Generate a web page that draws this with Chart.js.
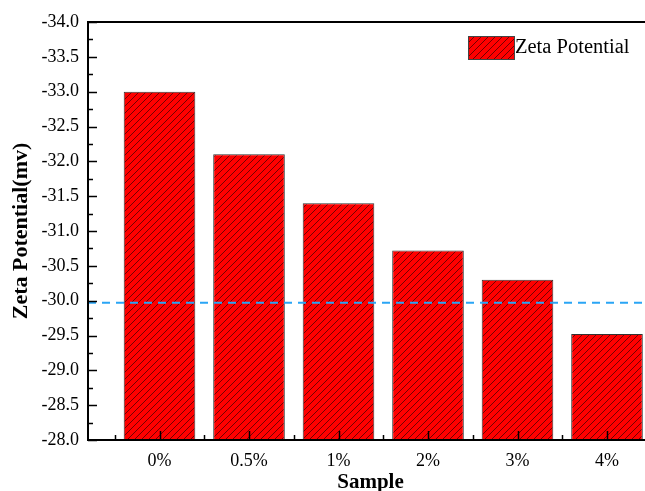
<!DOCTYPE html>
<html>
<head>
<meta charset="utf-8">
<script src="https://cdn.jsdelivr.net/npm/chart.js@4"></script>
<style>
  html, body { margin: 0; padding: 0; background: #fff; overflow: hidden; }
  #wrap { width: 653px; height: 491px; position: relative; }
</style>
</head>
<body>
<div id="wrap"><canvas id="zeta-chart"></canvas></div>
<script>
var sampleLabels = ["0%", "0.5%", "1%", "2%", "3%", "4%"];
var zetaValues = [-33.0, -32.1, -31.4, -30.72, -30.3, -29.52];
var baseValue = -28.0;
var refLine = -29.97;
var yMin = -34.0, yMax = -28.0;

var serif = "'Liberation Serif', 'Times New Roman', serif";

function makeHatch() {
    var s = 7;
    var c = document.createElement("canvas");
    c.width = s; c.height = s;
    var g = c.getContext("2d");
    g.fillStyle = "#ff0000";
    g.fillRect(0, 0, s, s);
    g.strokeStyle = "rgba(70,0,0,0.75)";
    g.lineWidth = 1;
    g.beginPath();
    g.moveTo(0, s); g.lineTo(s, 0);
    g.moveTo(-1, 1); g.lineTo(1, -1);
    g.moveTo(s - 1, s + 1); g.lineTo(s + 1, s - 1);
    g.stroke();
    return g.createPattern(c, "repeat");
}
var hatch = makeHatch();

// frame, inward ticks, dashed line and legend
var decor = {
    id: "decor",
    afterDatasetsDraw: function (chart) {
        var ctx = chart.ctx, a = chart.chartArea;
        var xs = chart.scales.x, ys = chart.scales.y;
        ctx.save();

        // dashed reference line
        var yr = ys.getPixelForValue(refLine);
        ctx.strokeStyle = "#2aa5f5";
        ctx.lineWidth = 2;
        ctx.setLineDash([8, 6]);
        ctx.beginPath();
        ctx.moveTo(a.left, yr); ctx.lineTo(a.right, yr);
        ctx.stroke();
        ctx.setLineDash([]);

        ctx.strokeStyle = "#000";
        ctx.lineWidth = 1.5;
        ctx.beginPath();
        // y ticks
        for (var v = yMin; v <= yMax + 1e-6; v += 0.25) {
            var py = Math.round(ys.getPixelForValue(v)) + 0.5;
            var major = Math.abs(v * 2 - Math.round(v * 2)) < 1e-6;
            ctx.moveTo(a.left, py); ctx.lineTo(a.left + (major ? 9 : 5), py);
        }
        // x ticks
        for (var i = 0; i < sampleLabels.length; i++) {
            var px = Math.round(xs.getPixelForValue(i + 1)) + 0.5;
            ctx.moveTo(px, a.bottom); ctx.lineTo(px, a.bottom - 9);
            var pm = Math.round(xs.getPixelForValue(i + 0.5)) + 0.5;
            ctx.moveTo(pm, a.bottom); ctx.lineTo(pm, a.bottom - 5);
        }
        ctx.stroke();

        // frame
        ctx.lineWidth = 2;
        ctx.beginPath();
        ctx.moveTo(a.right, a.top); ctx.lineTo(a.left, a.top);
        ctx.lineTo(a.left, a.bottom); ctx.lineTo(a.right, a.bottom);
        ctx.stroke();

        // legend
        var ds = chart.data.datasets[0];
        var bx = a.right - 185, by = a.top + 14;
        ctx.fillStyle = ds.backgroundColor;
        ctx.fillRect(bx, by, 46, 23);
        ctx.strokeStyle = "#444";
        ctx.lineWidth = 1;
        ctx.strokeRect(bx + 0.5, by + 0.5, 46, 23);
        ctx.fillStyle = "#000";
        ctx.font = "20.5px " + serif;
        ctx.textBaseline = "middle";
        ctx.fillText(ds.label, bx + 47, by + 12);
        ctx.restore();
    }
};

var barData = zetaValues.map(function (v, i) {
    return { x: i + 1, y: [baseValue, v] };
});

var configBar = {
    type: "bar",
    data: {
        datasets: [{
            label: "Zeta Potential",
            data: barData,
            backgroundColor: hatch,
            borderColor: "#333",
            borderWidth: 1,
            borderSkipped: false,
            categoryPercentage: 0.8,
            barPercentage: 1.0
        }]
    },
    options: {
        responsive: true,
        maintainAspectRatio: false,
        animation: false,
        layout: { padding: { top: 22, right: 0, left: 0, bottom: 0 } },
        plugins: {
            legend: { display: false },
            tooltip: { enabled: false }
        },
        scales: {
            x: {
                type: "linear",
                offset: false,
                min: 0.201,
                max: 6.514,
                grid: { display: false, drawTicks: false, offset: false },
                border: { display: false },
                afterBuildTicks: function (s) {
                    s.ticks = sampleLabels.map(function (l, i) { return { value: i + 1 }; });
                },
                afterFit: function (s) { s.height = 51; },
                ticks: {
                    color: "#000",
                    padding: 10,
                    maxRotation: 0,
                    font: { family: serif, size: 18 },
                    callback: function (v) { return sampleLabels[v - 1]; }
                },
                title: {
                    display: true,
                    text: "Sample",
                    color: "#000",
                    padding: { top: 0, bottom: -2 },
                    font: { family: serif, size: 21, weight: "bold", lineHeight: 1.0 }
                }
            },
            y: {
                min: yMin,
                max: yMax,
                reverse: true,
                grid: { display: false, drawTicks: false },
                border: { display: false },
                afterFit: function (s) { s.width = 88; },
                ticks: {
                    stepSize: 0.5,
                    color: "#000",
                    padding: 9,
                    font: { family: serif, size: 18 },
                    callback: function (v) { return v.toFixed(1); }
                },
                title: {
                    display: true,
                    text: "Zeta Potential(mv)",
                    color: "#000",
                    padding: { top: 8, bottom: 0 },
                    font: { family: serif, size: 22, weight: "bold" }
                }
            }
        }
    },
    plugins: [decor]
};

var myBar = new Chart(document.getElementById("zeta-chart").getContext("2d"), configBar);
</script>
</body>
</html>
